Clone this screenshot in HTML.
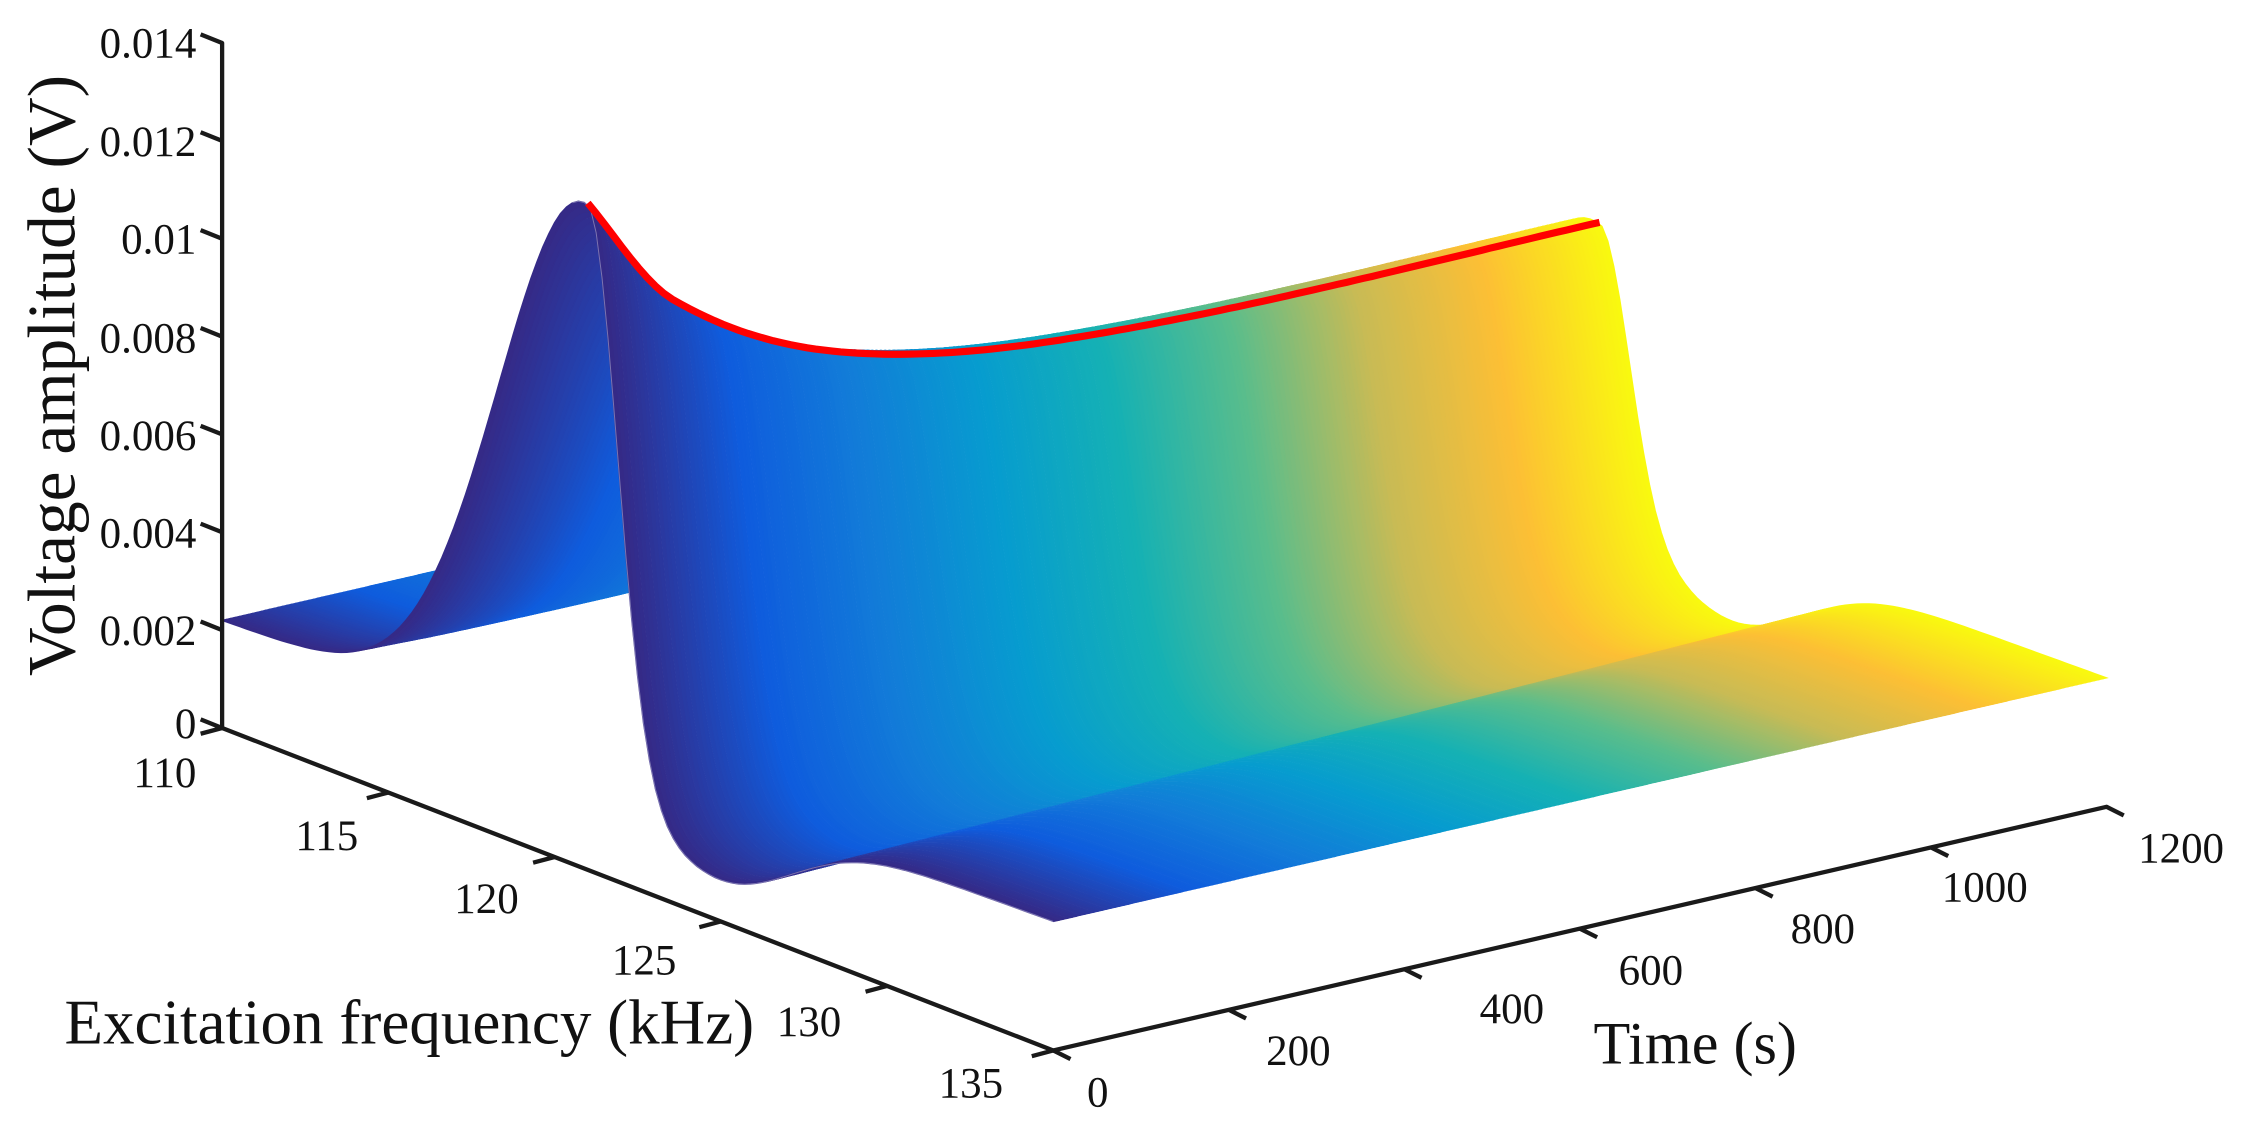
<!DOCTYPE html>
<html><head><meta charset="utf-8"><style>
html,body{margin:0;padding:0;background:#fff;}
svg{display:block;}
text{font-family:"Liberation Serif",serif;fill:#111;}
</style></head><body>
<svg id="s" width="2247" height="1133" viewBox="0 0 1568 790.6" preserveAspectRatio="none" xmlns="http://www.w3.org/2000/svg">
<g id="surf"></g>
<g id="axes" stroke="#1a1a1a" stroke-width="3" fill="none" stroke-linecap="round">
<line x1="155" y1="30" x2="155" y2="508"/>
<line x1="155" y1="508" x2="735" y2="733"/>
<line x1="735" y1="733" x2="1470" y2="563"/>
</g>
<g id="ticks" stroke="#1a1a1a" stroke-width="3" fill="none"></g>
<g font-size="30">
<text x="137" y="40" text-anchor="end">0.014</text>
<text x="137" y="109" text-anchor="end">0.012</text>
<text x="137" y="177" text-anchor="end">0.01</text>
<text x="137" y="246" text-anchor="end">0.008</text>
<text x="137" y="314" text-anchor="end">0.006</text>
<text x="137" y="382" text-anchor="end">0.004</text>
<text x="137" y="450" text-anchor="end">0.002</text>
<text x="137" y="515" text-anchor="end">0</text>
<text x="137" y="549" text-anchor="end">110</text>
<text x="250" y="593" text-anchor="end">115</text>
<text x="362" y="637" text-anchor="end">120</text>
<text x="472" y="680" text-anchor="end">125</text>
<text x="587" y="723" text-anchor="end">130</text>
<text x="700" y="766" text-anchor="end">135</text>
<text x="766" y="772" text-anchor="middle">0</text>
<text x="906" y="743" text-anchor="middle">200</text>
<text x="1055" y="714" text-anchor="middle">400</text>
<text x="1152" y="687" text-anchor="middle">600</text>
<text x="1272" y="658" text-anchor="middle">800</text>
<text x="1385" y="629" text-anchor="middle">1000</text>
<text x="1522" y="602" text-anchor="middle">1200</text>
</g>
<text font-size="47" transform="translate(52,262) rotate(-90)" text-anchor="middle">Voltage amplitude (V)</text>
<text font-size="44" x="45" y="728">Excitation frequency (kHz)</text>
<text font-size="42" x="1112" y="742">Time (s)</text>
</svg>
<script>
(function(){
var surf=document.getElementById('surf');
var stops=[[0,53,42,135],[0.125,15,92,221],[0.25,18,125,216],[0.375,7,156,207],[0.5,21,177,180],[0.625,89,189,140],[0.75,200,187,85],[0.875,252,191,53],[1,249,251,14]];
function col(v){for(var i=0;i<stops.length-1;i++){var a=stops[i],b=stops[i+1];if(v<=b[0]){var f=(v-a[0])/(b[0]-a[0]);return 'rgb('+Math.round(a[1]+f*(b[1]-a[1]))+','+Math.round(a[2]+f*(b[2]-a[2]))+','+Math.round(a[3]+f*(b[3]-a[3]))+')';}}return 'rgb(249,251,14)';}
var AP=[[-100,480],[0,392],[100,310],[300,243],[600,210],[1200,198],[1800,193]];
function A(t){
 for(var i=1;i<AP.length-2;i++){
  if(t<=AP[i+1][0]){
   var p0=AP[i-1],p1=AP[i],p2=AP[i+1],p3=AP[i+2];
   var s=(t-p1[0])/(p2[0]-p1[0]);
   var dt=p2[0]-p1[0];
   var m1=(p2[1]-p0[1])/(p2[0]-p0[0])*dt, m2=(p3[1]-p1[1])/(p3[0]-p1[0])*dt;
   var s2=s*s,s3=s2*s;
   return (2*s3-3*s2+1)*p1[1]+(s3-2*s2+s)*m1+(-2*s3+3*s2)*p2[1]+(s3-s2)*m2;
  }
 }
 return 198;
}
function pt(u,t){
 var u0=0.44-0.05*t/1200, a=A(t);
 var d=u-u0, h=75+15*u;
 if(d<0) h+=a*Math.exp(-(d/0.15)*(d/0.15)); else h+=a*Math.exp(-(d/0.05)*(d/0.05));
 var dd=d-0.16; h-=55*Math.exp(-(dd/0.12)*(dd/0.12));
 return [155+580*u+0.6125*t, 508+225*u-0.1417*t-h];
}
var NU=140, NT=240, html='';
function curve(t){var a=[];for(var j=0;j<=NU;j++)a.push(pt(j/NU,t));return a;}
var prev=curve(1200);
for(var i=NT-1;i>=0;i--){
 var t=i*1200/NT, c=curve(t), cl=col(t/1200);
 var s='';
 for(var j=0;j<=NU;j++)s+=c[j][0].toFixed(1)+','+c[j][1].toFixed(1)+' ';
 for(var j=NU;j>=0;j--)s+=prev[j][0].toFixed(1)+','+prev[j][1].toFixed(1)+' ';
 html+='<polygon points="'+s+'" fill="'+cl+'" stroke="'+cl+'" stroke-width="0.9"/>';
 if(i%3==0 && i<120){
  var l='';for(var j=Math.round(NU*0.42);j<=NU;j++)l+=c[j][0].toFixed(1)+','+c[j][1].toFixed(1)+' ';
  html+='<polyline points="'+l+'" fill="none" stroke="#ffffff" stroke-opacity="0.35" stroke-width="0.7"/>';
 }
 prev=c;
}
var r='';
for(var t=0;t<=1200;t+=10){var u0=0.44-0.05*t/1200;var p=pt(u0,t);r+=p[0].toFixed(1)+','+(p[1]-1).toFixed(1)+' ';}
html+='<polyline points="'+r+'" fill="none" stroke="#ff0000" stroke-width="5" stroke-linejoin="round"/>';
surf.innerHTML=html;
var tk='';
for(var k=0;k<=7;k++){var y=508-k*478/7;tk+='<line x1="155" y1="'+y+'" x2="140" y2="'+(y-6)+'"/>';}
for(var k=0;k<=5;k++){var x=155+116*k,y=508+45*k;tk+='<line x1="'+x+'" y1="'+y+'" x2="'+(x-15)+'" y2="'+(y+4)+'"/>';}
for(var k=0;k<=6;k++){var x=735+122.5*k,y=733-28.33*k;tk+='<line x1="'+x+'" y1="'+y+'" x2="'+(x+12)+'" y2="'+(y+6)+'"/>';}
document.getElementById('ticks').innerHTML=tk;
})();
</script>
</body></html>
